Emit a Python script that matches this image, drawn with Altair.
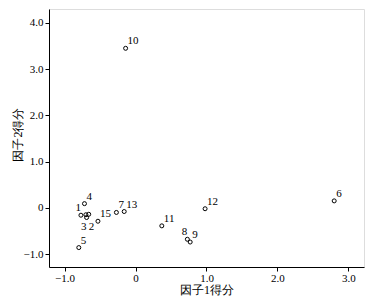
import altair as alt
import pandas as pd

ids = ["1", "2", "3", "4", "5", "6", "7", "8", "9", "10", "11", "12", "13", "14", "15"]
f1 = [-0.77, -0.66, -0.69, -0.72, -0.80, 2.80, -0.27, 0.73, 0.77, -0.14, 0.37, 0.98, -0.16, -0.70, -0.53]
f2 = [-0.16, -0.14, -0.21, 0.09, -0.86, 0.15, -0.10, -0.68, -0.74, 3.45, -0.39, -0.02, -0.08, -0.15, -0.29]
place = ["ul", "br", "bl", "ur", "ur", "ur", "ur", "ul", "ur", "ur", "ur", "ur", "ur", "none", "ur"]

df = pd.DataFrame({"id": ids, "f1": f1, "f2": f2, "place": place})

FONT = "Liberation Serif"
minus_expr = "datum.value == 0 ? '0' : replace(format(datum.value, '.1f'), '-', '−')"

xs = alt.Scale(domain=[-1.22, 3.22], nice=False, zero=False)
ys = alt.Scale(domain=[-1.28, 4.3], nice=False, zero=False)

base = alt.Chart(df)

pts = base.mark_point(shape="circle", filled=False, color="black", size=16, strokeWidth=1, opacity=1).encode(
    x=alt.X("f1:Q", scale=xs, title="因子1得分",
            axis=alt.Axis(values=[-1, 0, 1, 2, 3], labelExpr=minus_expr, grid=False,
                          tickColor="black", domainColor="black", tickSize=4,
                          labelColor="black", labelFont=FONT, labelFontSize=11,
                          titleFont=FONT, titleFontSize=12, titleFontWeight="normal",
                          titleColor="black", labelPadding=1, titlePadding=1)),
    y=alt.Y("f2:Q", scale=ys, title="因子2得分",
            axis=alt.Axis(values=[-1, 0, 1, 2, 3, 4], labelExpr=minus_expr, grid=False,
                          tickColor="black", domainColor="black", tickSize=4,
                          labelColor="black", labelFont=FONT, labelFontSize=11,
                          titleFont=FONT, titleFontSize=12, titleFontWeight="normal",
                          titleColor="black", labelPadding=2, titleX=-32, titleY=125,
                          titleBaseline="middle")),
)

def labels(p, align, dx, dy):
    return base.transform_filter(alt.datum.place == p).mark_text(
        align=align, baseline="middle", dx=dx, dy=dy, font=FONT, fontSize=11, color="black"
    ).encode(x=alt.X("f1:Q", scale=xs), y=alt.Y("f2:Q", scale=ys), text="id:N")

chart = alt.layer(
    pts,
    labels("ur", "left", 2, -7),
    labels("ul", "right", 0, -7),
    labels("bl", "right", 0, 9),
    labels("br", "left", 0, 13),
).properties(
    width=315, height=258,
    autosize=alt.AutoSizeParams(type="none"),
    padding={"left": 41, "top": 1, "right": 18, "bottom": 35},
).configure_view(stroke="black", strokeWidth=1).configure(background="white", font=FONT)

chart.save("out.html", embed_options={"renderer": "svg", "actions": False})
